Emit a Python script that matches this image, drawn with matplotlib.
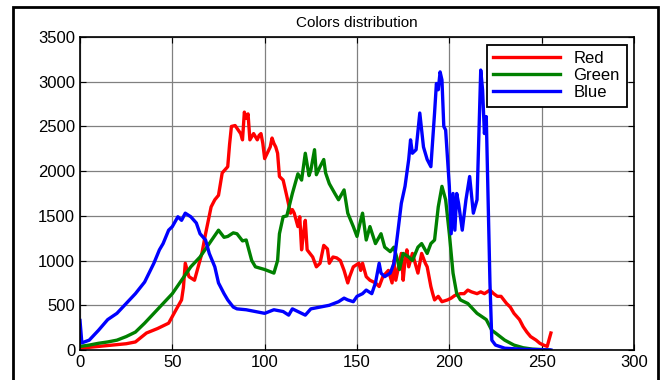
import matplotlib
matplotlib.use("Agg")
import matplotlib.pyplot as plt
from matplotlib.patches import Rectangle

plt.rcParams["font.family"] = ["Liberation Sans", "DejaVu Sans"]

TITLE = "Colors distribution"
SERIES_NAMES = ["Red", "Green", "Blue"]

# intensity level -> pixel count
red_x = [0, 10, 20, 25, 30, 36, 42, 48, 52, 55, 56, 57, 59, 62, 64, 66, 68, 71,
         73, 75, 77, 80, 81, 82, 84, 87, 88, 89, 90, 91, 92, 94, 96, 97, 98, 99,
         100, 103, 104, 105, 106, 107, 108, 110, 112, 114, 115, 116, 118, 119,
         120, 121, 122, 123, 126, 128, 130, 132, 134, 135, 137, 139, 141, 143,
         145, 146, 148, 151, 152, 153, 155, 157, 160, 162, 164, 167, 169, 170,
         171, 174, 175, 176, 177, 178, 180, 183, 185, 187, 188, 190, 191, 192,
         194, 196, 199, 201, 203, 206, 208, 210, 212, 215, 217, 219, 222, 224,
         226, 228, 231, 233, 235, 238, 240, 242, 244, 247, 249, 251, 253, 255]
red_y = [20, 40, 60, 70, 90, 190, 240, 300, 450, 560, 700, 970, 820, 780, 930,
         1080, 1300, 1600, 1680, 1730, 1980, 2050, 2300, 2500, 2510, 2420, 2350,
         2660, 2590, 2640, 2350, 2420, 2350, 2400, 2420, 2310, 2140, 2270, 2370,
         2310, 2270, 2200, 1940, 1900, 1720, 1530, 1570, 1530, 1380, 1490, 1120,
         1300, 1450, 1120, 1040, 930, 970, 1170, 1130, 970, 1040, 1030, 1000, 890,
         750, 820, 930, 970, 890, 970, 820, 780, 750, 710, 820, 890, 750, 1000,
         780, 1080, 780, 1000, 1120, 930, 1080, 860, 1080, 970, 930, 710, 630,
         560, 600, 540, 560, 580, 610, 630, 630, 670, 650, 630, 650, 630, 670,
         630, 600, 600, 520, 480, 410, 340, 260, 200, 150, 110, 75, 55, 40, 190]

green_x = [0, 5, 10, 15, 20, 25, 30, 35, 40, 45, 50, 55, 60, 65, 70, 75, 78, 80,
           83, 85, 88, 90, 93, 95, 100, 105, 107, 108, 110, 112, 115, 118, 120,
           122, 124, 125, 127, 128, 130, 132, 133, 135, 138, 140, 143, 145, 148,
           150, 152, 153, 155, 157, 160, 163, 165, 168, 170, 172, 173, 175, 178,
           180, 183, 185, 188, 190, 192, 194, 196, 198, 200, 202, 204, 206, 210,
           215, 220, 223, 225, 230, 235, 240, 245, 250, 254]
green_y = [40, 55, 75, 90, 110, 150, 200, 300, 410, 520, 630, 780, 930, 1040,
           1190, 1340, 1260, 1270, 1310, 1300, 1220, 1230, 1000, 930, 900, 860,
           1000, 1300, 1490, 1500, 1750, 1970, 1900, 2200, 1950, 2010, 2240, 1960,
           2050, 2130, 1980, 1860, 1750, 1680, 1790, 1530, 1380, 1270, 1450, 1530,
           1230, 1380, 1190, 1300, 1150, 1100, 1150, 1000, 900, 1080, 1040, 1000,
           1150, 1190, 1080, 1190, 1230, 1600, 1830, 1680, 1300, 860, 630, 560,
           520, 410, 340, 220, 190, 110, 55, 25, 10, 5, 0]

blue_x = [0, 1, 5, 10, 15, 20, 25, 30, 35, 40, 43, 45, 48, 50, 53, 55, 57, 60,
          63, 65, 68, 70, 73, 75, 78, 80, 83, 85, 90, 95, 100, 105, 110, 113, 115,
          120, 122, 125, 130, 135, 140, 143, 145, 148, 150, 153, 155, 158, 160,
          162, 163, 165, 168, 170, 172, 174, 176, 178, 179, 180, 182, 184, 186,
          188, 190, 192, 193, 194, 195, 196, 197, 198, 200, 201, 202, 203, 204,
          205, 207, 209, 211, 213, 215, 217, 218, 219, 220, 221, 222, 223, 225,
          230, 240, 250, 255]
blue_y = [330, 80, 110, 220, 340, 410, 520, 630, 760, 970, 1120, 1190, 1340,
          1380, 1490, 1450, 1530, 1490, 1420, 1300, 1230, 1080, 930, 750, 630, 560,
          480, 460, 450, 430, 410, 450, 430, 390, 460, 410, 390, 460, 480, 500,
          540, 580, 560, 540, 600, 630, 670, 630, 750, 970, 860, 820, 860, 970,
          1300, 1640, 1830, 2130, 2350, 2200, 2240, 2650, 2270, 2130, 2050, 2650,
          2980, 2910, 3110, 3020, 2500, 2460, 1830, 1300, 1750, 1340, 1750, 1640,
          1340, 1680, 1940, 1530, 1680, 3130, 2910, 2420, 2610, 1680, 750, 110,
          55, 20, 8, 3, 0]

x_ticks = [0, 50, 100, 150, 200, 250, 300]
y_ticks = [0, 500, 1000, 1500, 2000, 2500, 3000, 3500]

fig = plt.figure(figsize=(6.6, 3.8), dpi=100)
ax = fig.add_axes([80 / 660, 30 / 380, 554 / 660, 313 / 380])

# black frame round the whole figure
fig.patches.append(Rectangle((13 / 660, -0.01), 645 / 660, 1 - 7 / 380 + 0.01,
                             transform=fig.transFigure, fill=False,
                             edgecolor="black", linewidth=2, zorder=0))

ax.plot(red_x, red_y, color="#ff0000", lw=2.4, label=SERIES_NAMES[0])
ax.plot(green_x, green_y, color="#008000", lw=2.4, label=SERIES_NAMES[1])
ax.plot(blue_x, blue_y, color="#0000ff", lw=2.4, label=SERIES_NAMES[2])

ax.set_xlim(0, 300)
ax.set_ylim(0, 3500)
ax.set_xticks(x_ticks)
ax.set_yticks(y_ticks)
ax.grid(True, color="#808080", lw=0.9)
ax.set_axisbelow(True)
ax.tick_params(direction="in", top=True, right=True, length=4,
               labelsize=12, colors="black")
for sp in ax.spines.values():
    sp.set_linewidth(1.2)

ax.set_title(TITLE, fontsize=11, pad=7)

leg = ax.legend(loc="upper right", fontsize=12, handlelength=4.0,
                borderaxespad=0.45, labelspacing=0.12, fancybox=False,
                framealpha=1, edgecolor="black", borderpad=0.4,
                handletextpad=0.8)
leg.get_frame().set_linewidth(1.3)

fig.savefig("out.png", dpi=100)
